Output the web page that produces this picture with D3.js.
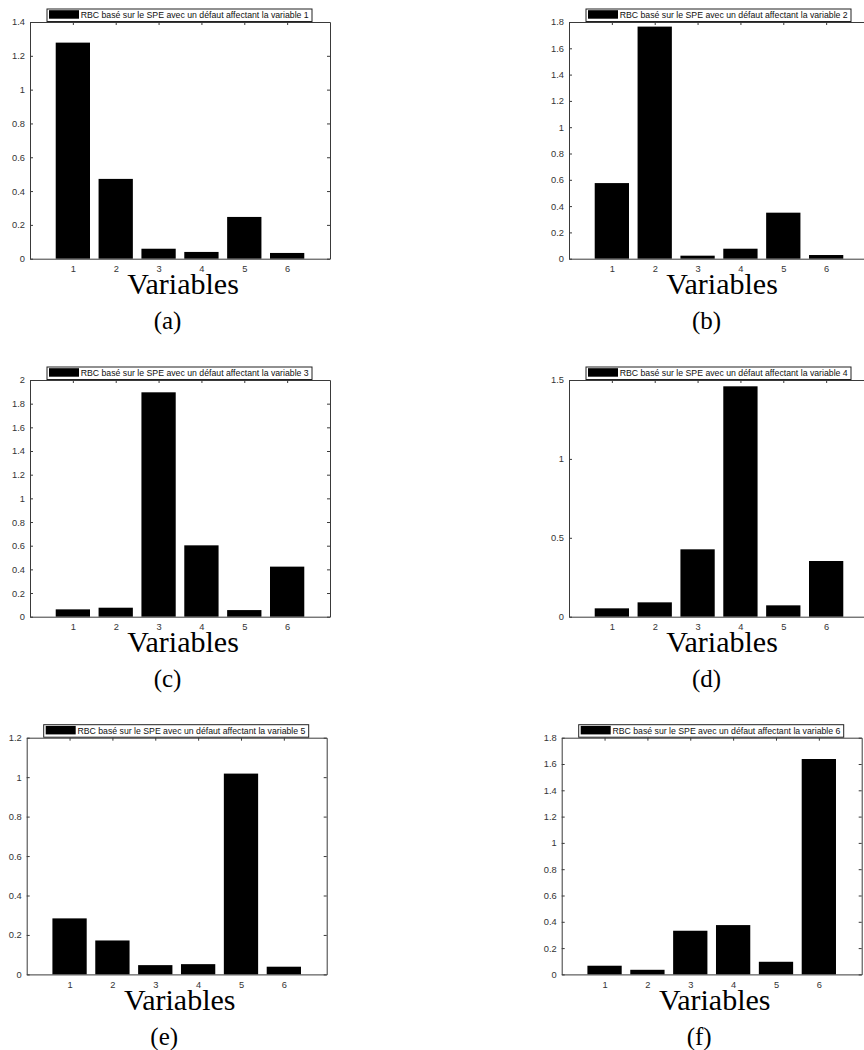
<!DOCTYPE html>
<html>
<head>
<meta charset="utf-8">
<script src="https://cdn.jsdelivr.net/npm/d3@7"></script>
<style>
  html, body { margin: 0; padding: 0; background: #fff; }
  svg { display: block; }
</style>
</head>
<body>
<svg id="chart" width="864" height="1050"></svg>
<script>
// ---------- data ----------
const categories = [1, 2, 3, 4, 5, 6];
const valuesA = [1.278, 0.472, 0.059, 0.040, 0.247, 0.034];
const valuesB = [0.575, 1.765, 0.023, 0.076, 0.350, 0.028];
const valuesC = [0.062, 0.076, 1.896, 0.603, 0.056, 0.423];
const valuesD = [0.053, 0.091, 0.427, 1.460, 0.072, 0.353];
const valuesE = [0.284, 0.172, 0.047, 0.052, 1.018, 0.039];
const valuesF = [0.066, 0.035, 0.332, 0.375, 0.096, 1.638];
const yTicksA = [0, 0.2, 0.4, 0.6, 0.8, 1, 1.2, 1.4];
const yTicksB = [0, 0.2, 0.4, 0.6, 0.8, 1, 1.2, 1.4, 1.6, 1.8];
const yTicksC = [0, 0.2, 0.4, 0.6, 0.8, 1, 1.2, 1.4, 1.6, 1.8, 2];
const yTicksD = [0, 0.5, 1, 1.5];
const yTicksE = [0, 0.2, 0.4, 0.6, 0.8, 1, 1.2];
const yTicksF = [0, 0.2, 0.4, 0.6, 0.8, 1, 1.2, 1.4, 1.6, 1.8];
const legendLabels = [
  "RBC basé sur le SPE avec un défaut affectant la variable 1",
  "RBC basé sur le SPE avec un défaut affectant la variable 2",
  "RBC basé sur le SPE avec un défaut affectant la variable 3",
  "RBC basé sur le SPE avec un défaut affectant la variable 4",
  "RBC basé sur le SPE avec un défaut affectant la variable 5",
  "RBC basé sur le SPE avec un défaut affectant la variable 6"
];
const captions = ["(a)", "(b)", "(c)", "(d)", "(e)", "(f)"];
const xLabel = "Variables";

// ---------- layout ----------
const panels = [
  { left: 30,    top: 22,    values: valuesA, ticks: yTicksA },
  { left: 569,   top: 22,    values: valuesB, ticks: yTicksB },
  { left: 30,    top: 380,   values: valuesC, ticks: yTicksC },
  { left: 569,   top: 380,   values: valuesD, ticks: yTicksD },
  { left: 26.7,  top: 737.7, values: valuesE, ticks: yTicksE },
  { left: 561.7, top: 737.7, values: valuesF, ticks: yTicksF }
];
const W = 300, H = 236.7;
const axisColor = "#3a3a3a";
const tickFont = "'Liberation Sans', Arial, sans-serif";
const serif = "'Liberation Serif', 'DejaVu Serif', serif";

const svg = d3.select("#chart");

panels.forEach((p, i) => {
  const g = svg.append("g").attr("transform", `translate(${p.left},${p.top})`);
  const x = d3.scaleLinear().domain([0, 7]).range([0, W]);
  const ymax = p.ticks[p.ticks.length - 1];
  const y = d3.scaleLinear().domain([0, ymax]).range([H, 0]);
  const fmt = d3.format("~g");

  const styleAxis = sel => {
    sel.selectAll("path.domain").attr("stroke", axisColor).attr("stroke-width", 1);
    sel.selectAll(".tick line").attr("stroke", axisColor).attr("stroke-width", 1);
    sel.selectAll(".tick text").attr("fill", "#333")
      .style("font-family", tickFont).style("font-size", "9.3px");
  };
  g.append("g").call(d3.axisLeft(y).tickValues(p.ticks).tickFormat(fmt).tickSize(-3).tickSizeOuter(0).tickPadding(5)).call(styleAxis);
  g.append("g").attr("transform", `translate(${W},0)`)
    .call(d3.axisRight(y).tickValues(p.ticks).tickFormat("").tickSize(-3).tickSizeOuter(0)).call(styleAxis);
  g.append("g")
    .call(d3.axisTop(x).tickValues(categories).tickFormat("").tickSize(-3).tickSizeOuter(0)).call(styleAxis);

  // bars
  const bw = 0.8;
  g.append("g").selectAll("rect").data(p.values).join("rect")
    .attr("x", (d, j) => x(categories[j] - bw / 2))
    .attr("width", x(bw) - x(0))
    .attr("y", d => y(d))
    .attr("height", d => y(0) - y(d))
    .attr("fill", "#000");

  // bottom axis drawn over bars
  g.append("g").attr("transform", `translate(0,${H})`)
    .call(d3.axisBottom(x).tickValues(categories).tickFormat(fmt).tickSize(-3).tickSizeOuter(0).tickPadding(7))
    .call(styleAxis)
    .call(s => s.selectAll(".tick line").remove());

  // legend
  const lx = 17, ly = -13, lw = 265, lh = 12.5;
  const lg = g.append("g").attr("transform", `translate(${lx},${ly})`);
  lg.append("rect").attr("x", 0).attr("y", 0).attr("width", lw).attr("height", lh)
    .attr("fill", "#fff").attr("stroke", "#222").attr("stroke-width", 1);
  lg.append("rect").attr("x", 2).attr("y", 1.2).attr("width", 30).attr("height", 8.5).attr("fill", "#000");
  lg.append("text").attr("x", 33.7).attr("y", 9.3)
    .style("font-family", tickFont).style("font-size", "8.7px").attr("fill", "#111")
    .attr("textLength", 228).attr("lengthAdjust", "spacingAndGlyphs")
    .text(legendLabels[i]);

  // x label
  g.append("text").attr("x", W / 2 + 3).attr("y", H + 35.6)
    .attr("text-anchor", "middle").style("font-family", serif).style("font-size", "30px").attr("fill", "#000")
    .text(xLabel);

  // caption
  g.append("text").attr("x", W / 2 - 12.5).attr("y", H + 70.5)
    .attr("text-anchor", "middle").style("font-family", serif).style("font-size", "25px").attr("fill", "#000")
    .text(captions[i]);
});
</script>
</body>
</html>
